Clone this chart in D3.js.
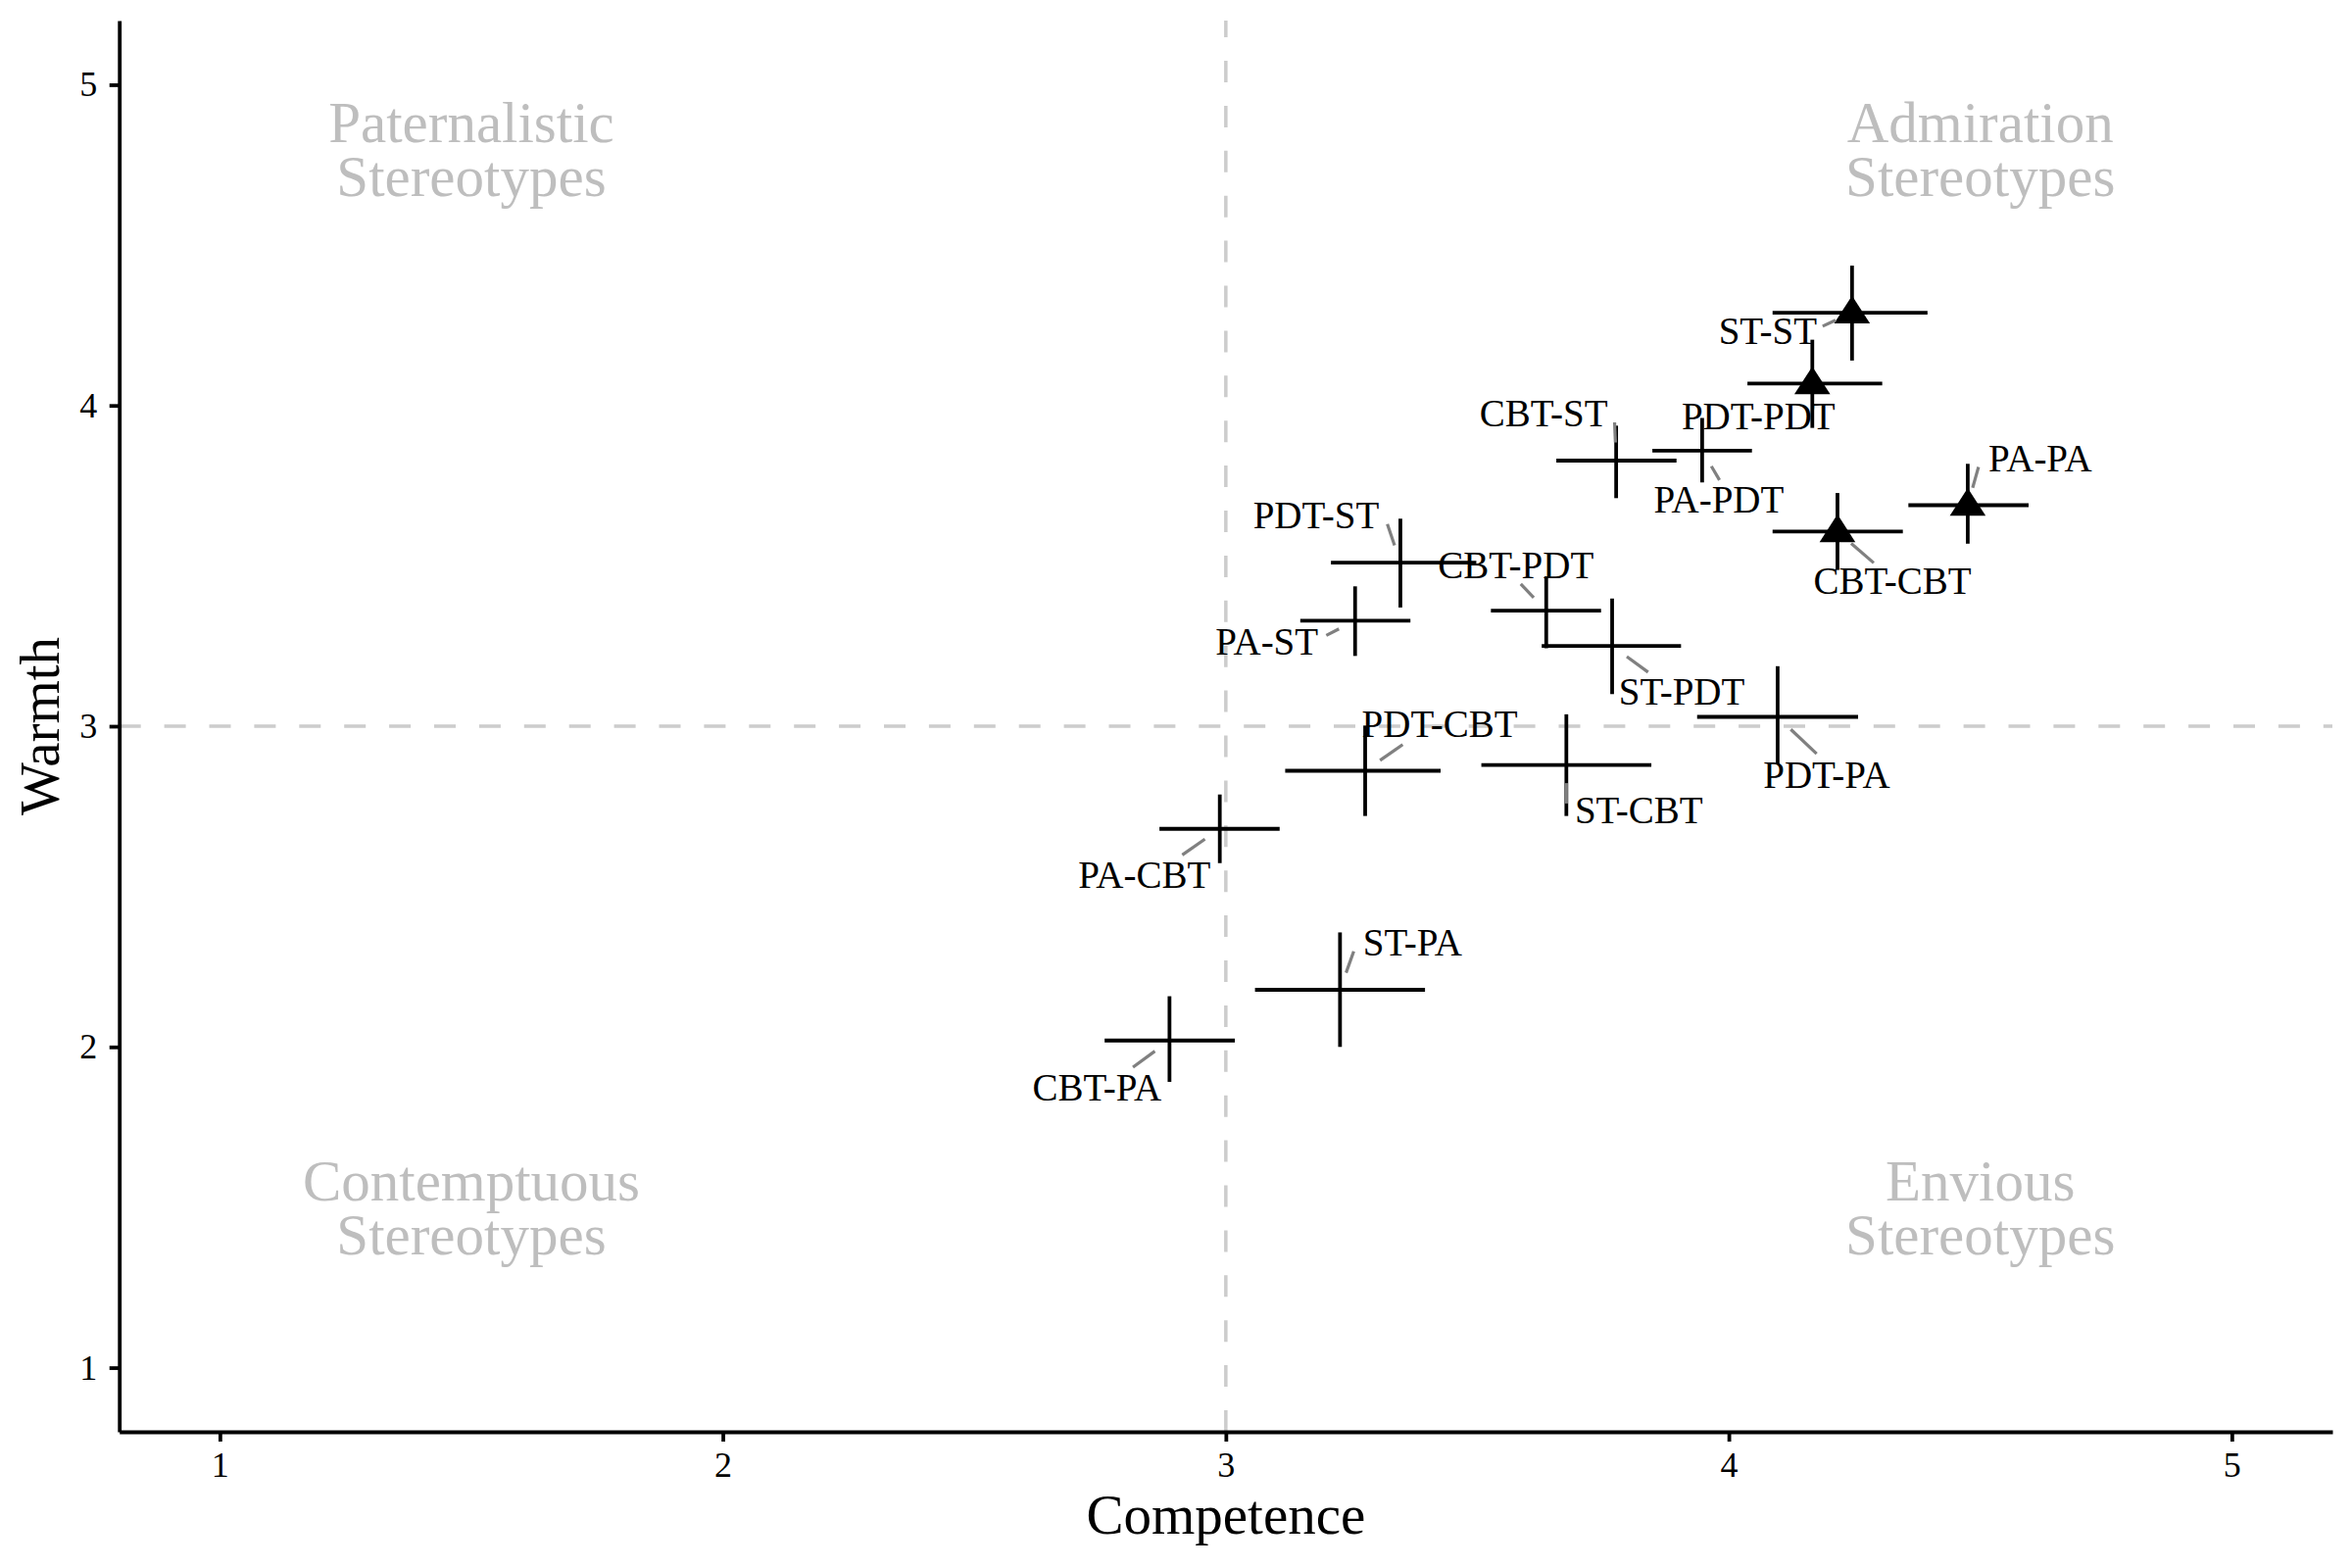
<!DOCTYPE html>
<html>
<head>
<meta charset="utf-8">
<title>Warmth and Competence</title>
<script src="https://cdn.jsdelivr.net/npm/d3@7"></script>
<style>
  body { margin: 0; background: #fff; }
  svg { display: block; font-family: "Liberation Serif", "DejaVu Serif", serif; }
  .axis path, .axis line { stroke: #000; stroke-width: 3.8; }
  .axis text { font-size: 36px; fill: #000; font-family: "Liberation Serif", serif; }
  .ref { stroke: #cccccc; stroke-width: 3.5; stroke-dasharray: 22 23.9; }
  .bar { stroke: #000; stroke-width: 3.8; }
  .seg { stroke: #808080; stroke-width: 3.2; }
  .quad { font-size: 59px; fill: #bebebe; }
  .lab { font-size: 39px; fill: #000; }
  .title { font-size: 57px; fill: #000; }
</style>
</head>
<body>
<svg width="2400" height="1600"></svg>
<script>

    // Data: pairings, means and interval ends
    var pairs = ["ST-ST", "PDT-PDT", "PA-PA", "CBT-CBT", "CBT-ST", "PA-PDT", "PDT-ST", "PA-ST",
                 "CBT-PDT", "ST-PDT", "PDT-PA", "PDT-CBT", "ST-CBT", "PA-CBT", "ST-PA", "CBT-PA"];
    var competence     = [4.245, 4.166, 4.475, 4.216, 3.776, 3.947, 3.347, 3.257, 3.637, 3.768, 4.097, 3.277, 3.677, 2.988, 3.227, 2.888];
    var competenceLow  = [4.087, 4.037, 4.357, 4.087, 3.657, 3.848, 3.209, 3.148, 3.527, 3.628, 3.937, 3.118, 3.508, 2.868, 3.058, 2.759];
    var competenceHigh = [4.395, 4.305, 4.596, 4.346, 3.896, 4.046, 3.498, 3.367, 3.746, 3.905, 4.257, 3.427, 3.846, 3.107, 3.396, 3.018];
    var warmth     = [4.289, 4.068, 3.689, 3.607, 3.828, 3.859, 3.510, 3.329, 3.360, 3.250, 3.029, 2.861, 2.879, 2.680, 2.178, 2.020];
    var warmthLow  = [4.140, 3.930, 3.569, 3.487, 3.711, 3.760, 3.370, 3.219, 3.243, 3.100, 2.883, 2.720, 2.720, 2.573, 2.000, 1.891];
    var warmthHigh = [4.436, 4.205, 3.818, 3.727, 3.937, 3.961, 3.647, 3.436, 3.467, 3.398, 3.187, 3.002, 3.037, 2.787, 2.357, 2.158];

    // Quadrant annotations
    var quadrantText = ["Paternalistic\nStereotypes", "Admiration\nStereotypes", "Contemptuous\nStereotypes", "Envious\nStereotypes"];
    var quadrantX = [1.5, 4.5, 1.5, 4.5];
    var quadrantY = [4.8, 4.8, 1.5, 1.5];

    var tickValues = [1, 2, 3, 4, 5];

    // Where the repelled labels ended up, relative to their point (px),
    // and the far end of each connector (0,0 = no connector)
    var labelDx = [-86, -55, 74, 56, -74, 17, -86, -90, -31, 71, 50, 76, 74, -77, 74, -74];
    var labelDy = [32, 47, -35, 64, -35, 63, -35, 35, -33, 60, 72, -34, 59, 60, -35, 61];
    var connectorDx = [-30, 0, 11, 37, -1.6, 17.7, -13.3, -29.4, -26, 36.7, 39.8, 38.3, 0, -38.3, 14, -37.3];
    var connectorDy = [13.7, 0, -39, 32, -39, 30, -39.3, 15, -27.3, 26.7, 37.6, -26.7, 39.3, 26.7, -39.3, 27.3];

    var svg = d3.select("svg");

    var x = d3.scaleLinear().domain([0.8, 5.2]).range([121.7, 2380]),
        y = d3.scaleLinear().domain([0.8, 5.2]).range([1461, 21]);

    var points = pairs.map(function(p, i) {
        var parts = p.split("-");
        return {
            name: p, same: parts[0] === parts[1],
            x: competence[i], x0: competenceLow[i], x1: competenceHigh[i],
            y: warmth[i], y0: warmthLow[i], y1: warmthHigh[i],
            dx: labelDx[i], dy: labelDy[i],
            cx: connectorDx[i], cy: connectorDy[i]
        };
    });

    // Reference lines at the scale midpoint
    svg.append("line").attr("class", "ref")
        .attr("x1", x(3)).attr("x2", x(3))
        .attr("y1", y.range()[0]).attr("y2", y.range()[1]);
    svg.append("line").attr("class", "ref")
        .attr("x1", x.range()[0]).attr("x2", x.range()[1])
        .attr("y1", y(3)).attr("y2", y(3));

    // Quadrant labels
    var quad = svg.selectAll(".quad")
        .data(quadrantText)
        .enter().append("text")
            .attr("class", "quad")
            .attr("text-anchor", "middle")
            .attr("transform", function(d, i) { return "translate(" + x(quadrantX[i]) + "," + y(quadrantY[i]) + ")"; });
    quad.selectAll("tspan")
        .data(function(d) { return d.split("\n"); })
        .enter().append("tspan")
            .attr("x", 0)
            .attr("y", function(d, j) { return j === 0 ? -7 : 48; })
            .text(function(d) { return d; });

    // Axes
    svg.append("g")
        .attr("class", "axis")
        .attr("transform", "translate(0," + y.range()[0] + ")")
        .call(d3.axisBottom(x).tickValues(tickValues).tickFormat(d3.format("d"))
            .tickSize(10).tickSizeOuter(0).tickPadding(10.5));
    svg.append("g")
        .attr("class", "axis")
        .attr("transform", "translate(" + x.range()[0] + ",0)")
        .call(d3.axisLeft(y).tickValues(tickValues).tickFormat(d3.format("d"))
            .tickSize(10).tickSizeOuter(0).tickPadding(12.5));

    // Error bars
    var g = svg.append("g");
    g.selectAll(".hbar").data(points).enter().append("line")
        .attr("class", "bar")
        .attr("x1", function(d) { return x(d.x0); })
        .attr("x2", function(d) { return x(d.x1); })
        .attr("y1", function(d) { return y(d.y); })
        .attr("y2", function(d) { return y(d.y); });
    g.selectAll(".vbar").data(points).enter().append("line")
        .attr("class", "bar")
        .attr("x1", function(d) { return x(d.x); })
        .attr("x2", function(d) { return x(d.x); })
        .attr("y1", function(d) { return y(d.y0); })
        .attr("y2", function(d) { return y(d.y1); });

    // Triangles for the matched pairings
    g.selectAll(".tri").data(points.filter(function(d) { return d.same; })).enter().append("path")
        .attr("d", "M0,-17.5L18.3,10.8L-18.3,10.8Z")
        .attr("fill", "#000")
        .attr("transform", function(d) { return "translate(" + x(d.x) + "," + y(d.y) + ")"; });

    // Connectors, starting a little way out from the point
    var pointPad = 18.5;
    svg.append("g").selectAll("line")
        .data(points.filter(function(d) { return Math.hypot(d.cx, d.cy) > pointPad; }))
        .enter().append("line")
            .attr("class", "seg")
            .each(function(d) {
                var len = Math.hypot(d.cx, d.cy), px = x(d.x), py = y(d.y);
                d3.select(this)
                    .attr("x1", px + d.cx / len * pointPad).attr("y1", py + d.cy / len * pointPad)
                    .attr("x2", px + d.cx).attr("y2", py + d.cy);
            });

    // Labels
    svg.append("g").selectAll("text").data(points).enter().append("text")
        .attr("class", "lab")
        .attr("text-anchor", "middle")
        .attr("x", function(d) { return x(d.x) + d.dx; })
        .attr("y", function(d) { return y(d.y) + d.dy; })
        .text(function(d) { return d.name; });

    // Axis titles
    svg.append("text").attr("class", "title")
        .attr("text-anchor", "middle")
        .attr("x", (x.range()[0] + x.range()[1]) / 2)
        .attr("y", 1565)
        .text("Competence");
    svg.append("text").attr("class", "title")
        .attr("text-anchor", "middle")
        .attr("transform", "translate(60," + (y.range()[0] + y.range()[1]) / 2 + ") rotate(-90)")
        .text("Warmth");

</script>
</body>
</html>
